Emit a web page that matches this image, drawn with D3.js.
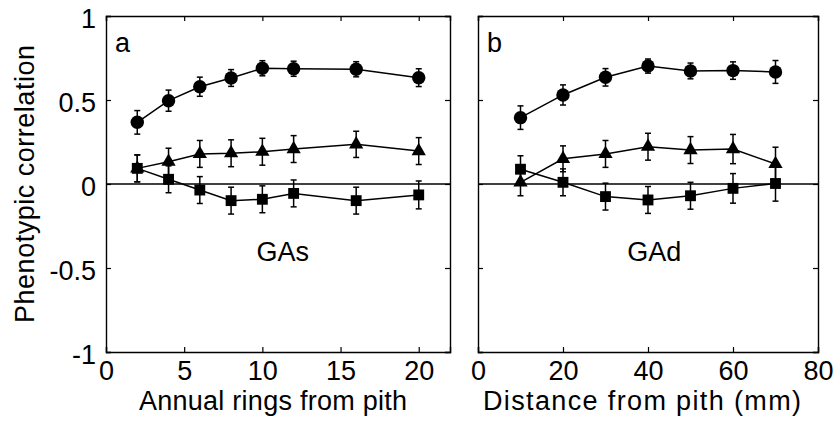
<!DOCTYPE html>
<html><head><meta charset="utf-8">
<script src="https://cdn.jsdelivr.net/npm/d3@7"></script>
<style>body{margin:0;background:#fff}svg{display:block}</style>
</head><body><svg id="c" width="837" height="424"></svg>
<script>
// Panel a: annual rings from pith
const ringsX = [2, 4, 6, 8, 10, 12, 16, 20];
const ringsCircle = [0.367, 0.496, 0.579, 0.631, 0.689, 0.686, 0.683, 0.633];
const ringsCircleErr = [0.07, 0.063, 0.057, 0.05, 0.045, 0.045, 0.045, 0.053];
const ringsTriangle = [0.093, 0.133, 0.179, 0.183, 0.192, 0.208, 0.236, 0.196];
const ringsTriangleErr = [0.08, 0.08, 0.08, 0.08, 0.08, 0.08, 0.078, 0.08];
const ringsSquare = [0.093, 0.028, -0.036, -0.099, -0.091, -0.056, -0.099, -0.065];
const ringsSquareErr = [0.08, 0.08, 0.08, 0.08, 0.08, 0.08, 0.08, 0.083];
// Panel b: distance from pith (mm)
const distX = [10, 20, 30, 40, 50, 60, 70];
const distCircle = [0.395, 0.53, 0.635, 0.702, 0.673, 0.675, 0.667];
const distCircleErr = [0.07, 0.06, 0.052, 0.042, 0.047, 0.052, 0.068];
const distTriangle = [0.01, 0.15, 0.179, 0.222, 0.202, 0.208, 0.119];
const distTriangleErr = [0.08, 0.077, 0.08, 0.08, 0.08, 0.087, 0.1];
const distSquare = [0.088, 0.01, -0.075, -0.095, -0.07, -0.026, 0.003];
const distSquareErr = [0.08, 0.08, 0.08, 0.08, 0.08, 0.088, 0.105];
// Ticks and labels
const yTicks = [-1, -0.5, 0, 0.5, 1];
const ringsTicks = [0, 5, 10, 15, 20];
const distTicks = [0, 20, 40, 60, 80];
const yLabel = "Phenotypic correlation";

const FONT = "'Liberation Sans', Arial, Helvetica, sans-serif";
const svg = d3.select("#c");
const topY = 16, bottomY = 352;
const y = d3.scaleLinear().domain([-1, 1]).range([bottomY, topY]);

const panels = [
  {x: ringsX, dom: [0, 22], range: [106, 450], ticks: ringsTicks, letter: "a", name: "GAs", nameX: 11.3,
   xlabel: "Annual rings from pith", xlabelX: 273, xlabelLen: 268, yTickLabels: true,
   series: [
     {v: ringsCircle, e: ringsCircleErr, sym: d3.symbolCircle, size: 142},
     {v: ringsTriangle, e: ringsTriangleErr, sym: d3.symbolTriangle, size: 88},
     {v: ringsSquare, e: ringsSquareErr, sym: d3.symbolSquare, size: 118}
   ]},
  {x: distX, dom: [0, 80], range: [478, 818], ticks: distTicks, letter: "b", name: "GAd", nameX: 41.5,
   xlabel: "Distance from pith (mm)", xlabelX: 642, xlabelLen: 318, yTickLabels: false,
   series: [
     {v: distCircle, e: distCircleErr, sym: d3.symbolCircle, size: 142},
     {v: distTriangle, e: distTriangleErr, sym: d3.symbolTriangle, size: 88},
     {v: distSquare, e: distSquareErr, sym: d3.symbolSquare, size: 118}
   ]}
];

panels.forEach(p => {
  const x = d3.scaleLinear().domain(p.dom).range(p.range);
  const g = svg.append("g");
  const x0 = p.range[0], x1 = p.range[1];

  // zero line
  g.append("line").attr("x1", x0).attr("x2", x1).attr("y1", y(0)).attr("y2", y(0))
    .attr("stroke", "#000").attr("stroke-width", 1.5);

  // axes with inward ticks
  const tl = 5;
  const axB = d3.axisBottom(x).tickValues(p.ticks).tickSize(-tl).tickPadding(9).tickFormat(d3.format("d"));
  const axT = d3.axisTop(x).tickValues(p.ticks).tickSize(-tl).tickFormat("");
  const axL = d3.axisLeft(y).tickValues(yTicks).tickSize(-tl).tickPadding(10).tickFormat(p.yTickLabels ? (d => String(d)) : "");
  const axR = d3.axisRight(y).tickValues(yTicks).tickSize(-tl).tickFormat("");
  const gb = g.append("g").attr("transform", `translate(0,${bottomY})`).call(axB);
  const gt = g.append("g").attr("transform", `translate(0,${topY})`).call(axT);
  const gl = g.append("g").attr("transform", `translate(${x0},0)`).call(axL);
  const gr = g.append("g").attr("transform", `translate(${x1},0)`).call(axR);
  [gb, gt, gl, gr].forEach(a => {
    a.select(".domain").attr("stroke", "#000").attr("stroke-width", 1.4);
    a.selectAll(".tick line").attr("stroke", "#000").attr("stroke-width", 1.2);
    a.selectAll("text").attr("font-family", FONT).attr("font-size", 27).attr("fill", "#000");
  });
  gb.selectAll(".tick text").attr("dy", "0.71em");
  gl.selectAll(".tick text").attr("dy", "0.42em");

  // series
  p.series.forEach(s => {
    const pts = p.x.map((xv, i) => ({x: xv, v: s.v[i], e: s.e[i]}));
    g.append("path").datum(pts)
      .attr("d", d3.line().x(d => x(d.x)).y(d => y(d.v)))
      .attr("fill", "none").attr("stroke", "#000").attr("stroke-width", 1.5);
    const cap = 3;
    const eb = g.append("g").attr("stroke", "#000").attr("stroke-width", 1.5);
    pts.forEach(d => {
      const cx = x(d.x), ya = y(d.v + d.e), yb = y(d.v - d.e);
      eb.append("line").attr("x1", cx).attr("x2", cx).attr("y1", ya).attr("y2", yb);
      eb.append("line").attr("x1", cx - cap).attr("x2", cx + cap).attr("y1", ya).attr("y2", ya);
      eb.append("line").attr("x1", cx - cap).attr("x2", cx + cap).attr("y1", yb).attr("y2", yb);
    });
    g.append("g").selectAll("path").data(pts).join("path")
      .attr("transform", d => `translate(${x(d.x)},${y(d.v)})`)
      .attr("d", d3.symbol().type(s.sym).size(s.size))
      .attr("fill", "#000");
  });

  // panel letter and name
  g.append("text").attr("x", x0 + 9).attr("y", 52).text(p.letter)
    .attr("font-family", FONT).attr("font-size", 27).attr("fill", "#000");
  g.append("text").attr("x", x(p.nameX)).attr("y", 261).attr("text-anchor", "middle").text(p.name)
    .attr("font-family", FONT).attr("font-size", 27).attr("fill", "#000");
  // x label
  g.append("text").attr("x", p.xlabelX).attr("y", 410).attr("text-anchor", "middle").text(p.xlabel)
    .attr("textLength", p.xlabelLen).attr("lengthAdjust", "spacing")
    .attr("font-family", FONT).attr("font-size", 27).attr("fill", "#000");
});

svg.append("text").attr("transform", "translate(34,184) rotate(-90)").attr("text-anchor", "middle")
  .text(yLabel).attr("textLength", 278).attr("lengthAdjust", "spacing")
  .attr("font-family", FONT).attr("font-size", 27).attr("fill", "#000");
</script></body></html>
